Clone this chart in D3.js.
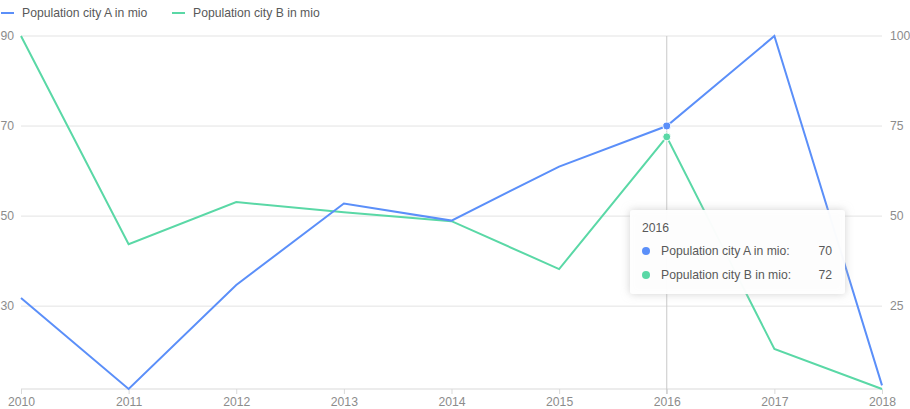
<!DOCTYPE html>
<html>
<head>
<meta charset="utf-8">
<script src="https://cdn.jsdelivr.net/npm/d3@7"></script>
<style>
  body { margin: 0; background: #fff; }
  svg { font-family: "Liberation Sans", Arial, sans-serif; }
</style>
</head>
<body>
<svg id="chart" width="910" height="409"></svg>
<script>
// data
const years = ["2010", "2011", "2012", "2013", "2014", "2015", "2016", "2017", "2018"];
const cityA = [31.8, 11.6, 34.7, 52.8, 49, 61, 70, 90, 12.4];
const cityB = [100, 42.2, 53.9, 51.1, 48.6, 35.3, 72, 13.1, 2];
const seriesNames = ["Population city A in mio", "Population city B in mio"];
const colors = ["#5b8ff9", "#5ad8a6"];
const leftTicks = [30, 50, 70, 90];
const rightTicks = [25, 50, 75, 100];
const hoverYear = "2016";

const width = 910, height = 409;
const margin = {top: 36, left: 21, right: 28, bottom: 20};

const svg = d3.select("#chart");

const x = d3.scalePoint().domain(years).range([margin.left, width - margin.right]);
const yL = d3.scaleLinear().domain(d3.extent(cityA)).range([height - margin.bottom, margin.top]);
const yR = d3.scaleLinear().domain(d3.extent(cityB)).range([height - margin.bottom, margin.top]);

// gridlines (left axis ticks)
svg.append("g")
  .selectAll("line")
  .data(leftTicks)
  .join("line")
  .attr("x1", margin.left).attr("x2", width - margin.right)
  .attr("y1", d => yL(d)).attr("y2", d => yL(d))
  .attr("stroke", "#e3e3e3");

// left axis labels
svg.append("g")
  .selectAll("text")
  .data(leftTicks)
  .join("text")
  .attr("x", 14).attr("y", d => yL(d))
  .attr("dy", "0.3em")
  .attr("text-anchor", "end")
  .attr("font-size", 12.2)
  .attr("fill", "#8c8c8c")
  .text(d => d);

// right axis labels
svg.append("g")
  .selectAll("text")
  .data(rightTicks)
  .join("text")
  .attr("x", 890).attr("y", d => yR(d))
  .attr("dy", "0.3em")
  .attr("font-size", 12.2)
  .attr("fill", "#8c8c8c")
  .text(d => d);

// bottom axis
const xAxis = svg.append("g")
  .attr("transform", `translate(0,${height - margin.bottom})`)
  .call(d3.axisBottom(x).tickSize(5).tickPadding(3));
xAxis.select(".domain").attr("stroke", "#d9d9d9").attr("d", `M${margin.left},0H${width - margin.right}`);
xAxis.selectAll(".tick line").attr("stroke", "#d9d9d9");
xAxis.selectAll(".tick text")
  .attr("font-size", 12.2)
  .attr("font-family", "Liberation Sans, Arial, sans-serif")
  .attr("fill", "#8c8c8c");

// crosshair
svg.append("line")
  .attr("x1", x(hoverYear)).attr("x2", x(hoverYear))
  .attr("y1", margin.top).attr("y2", height - margin.bottom + 5)
  .attr("stroke", "#c8c8c8");

// lines
const lineA = d3.line().x((d, i) => x(years[i])).y(d => yL(d));
const lineB = d3.line().x((d, i) => x(years[i])).y(d => yR(d));

svg.append("path").datum(cityB)
  .attr("d", lineB).attr("fill", "none")
  .attr("stroke", colors[1]).attr("stroke-width", 2);
svg.append("path").datum(cityA)
  .attr("d", lineA).attr("fill", "none")
  .attr("stroke", colors[0]).attr("stroke-width", 2);

// hover points
const hi = years.indexOf(hoverYear);
svg.append("circle")
  .attr("cx", x(hoverYear)).attr("cy", yL(cityA[hi])).attr("r", 4)
  .attr("fill", colors[0]).attr("stroke", "#fff").attr("stroke-width", 1);
svg.append("circle")
  .attr("cx", x(hoverYear)).attr("cy", yR(cityB[hi])).attr("r", 4)
  .attr("fill", colors[1]).attr("stroke", "#fff").attr("stroke-width", 1);

// legend
const legend = svg.append("g")
  .selectAll("g")
  .data(seriesNames)
  .join("g")
  .attr("transform", (d, i) => `translate(${i === 0 ? 1 : 172},13)`);
legend.append("line")
  .attr("x1", 0).attr("x2", 13)
  .attr("stroke", (d, i) => colors[i]).attr("stroke-width", 2);
legend.append("text")
  .attr("x", 21).attr("dy", "0.35em")
  .attr("font-size", 12.2)
  .attr("fill", "#595959")
  .text(d => d);

// tooltip
const defs = svg.append("defs");
const f = defs.append("filter").attr("id", "shadow")
  .attr("x", "-20%").attr("y", "-30%").attr("width", "140%").attr("height", "160%");
f.append("feDropShadow").attr("dx", 0).attr("dy", 0).attr("stdDeviation", 4)
  .attr("flood-color", "#aeaeae").attr("flood-opacity", 0.6);

const tip = svg.append("g").attr("transform", "translate(630,210)");
tip.append("rect")
  .attr("width", 215).attr("height", 84).attr("rx", 3)
  .attr("fill", "rgba(255,255,255,0.95)")
  .attr("filter", "url(#shadow)");
tip.append("text")
  .attr("x", 12).attr("y", 18).attr("dy", "0.35em")
  .attr("font-size", 12.2).attr("fill", "#595959")
  .text(hoverYear);
const rows = tip.selectAll("g.row")
  .data([cityA[hi], cityB[hi]])
  .join("g")
  .attr("class", "row")
  .attr("transform", (d, i) => `translate(0,${41 + i * 24})`);
rows.append("circle")
  .attr("cx", 16).attr("r", 4)
  .attr("fill", (d, i) => colors[i]);
rows.append("text")
  .attr("x", 31).attr("dy", "0.35em")
  .attr("font-size", 12.2).attr("fill", "#595959")
  .text((d, i) => seriesNames[i] + ":");
rows.append("text")
  .attr("x", 202).attr("dy", "0.35em")
  .attr("text-anchor", "end")
  .attr("font-size", 12.2).attr("fill", "#595959")
  .text(d => Math.round(d));
</script>
</body>
</html>
